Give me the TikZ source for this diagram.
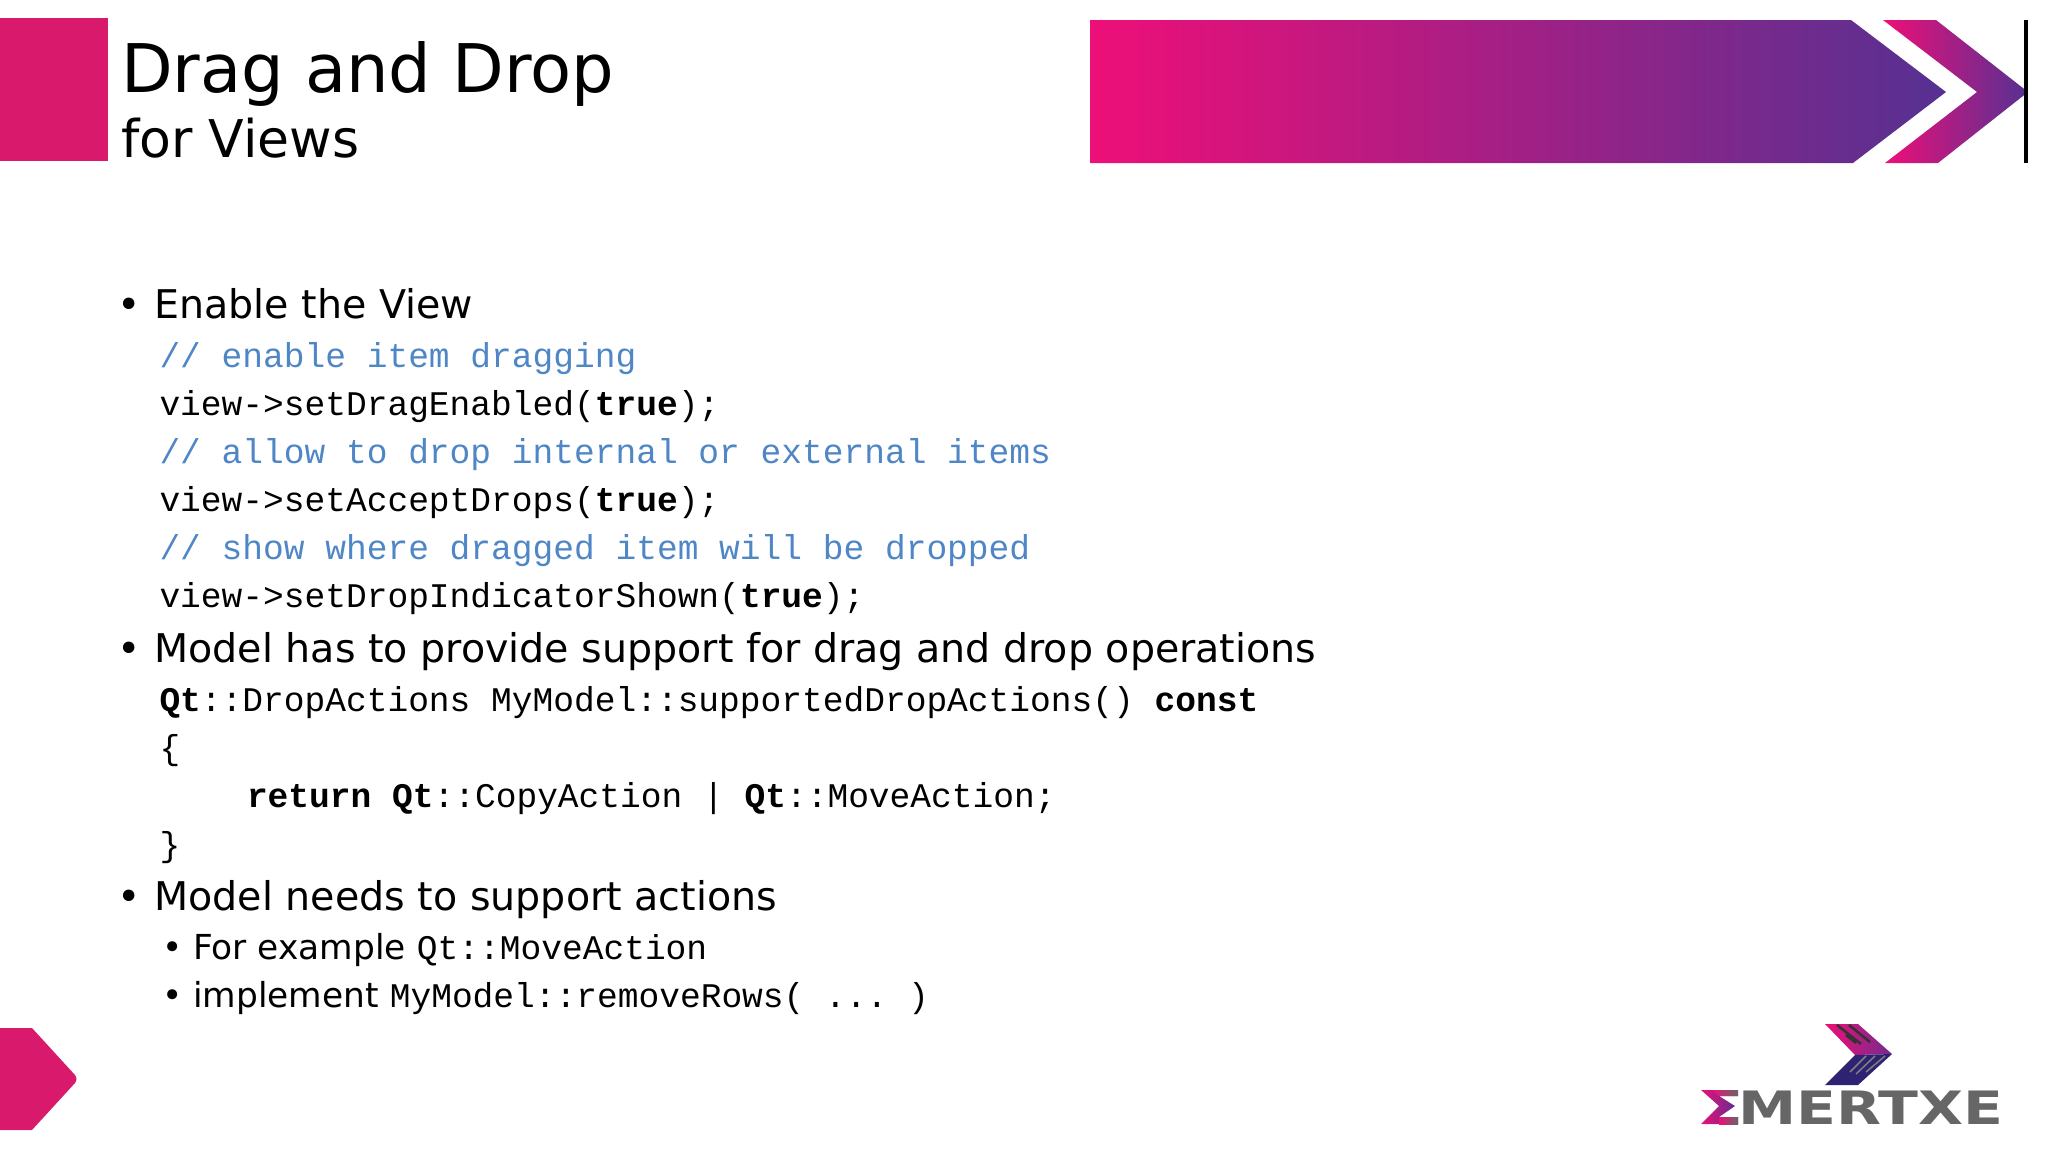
\documentclass[tikz,border=0pt]{standalone}
\usepackage{fontspec}
\setmainfont{DejaVu Sans}
\setmonofont{Liberation Mono}
\definecolor{pinkbar}{HTML}{D9196B}
\definecolor{gradL}{HTML}{EE0F78}
\definecolor{gradR}{HTML}{553192}
\definecolor{cmt}{HTML}{4F86C6}
\definecolor{logoblue}{HTML}{2E2272}
\definecolor{logogray}{HTML}{666666}
\newcommand{\pxfont}[1]{\fontsize{#1pt}{#1pt}\selectfont}
\newcommand{\cd}[1]{{\ttfamily\pxfont{34.55}#1}}
\tikzset{
  x=1pt,y=-1pt,
  txt/.style={anchor=base west,inner sep=0pt,outer sep=0pt,text=black},
  titleA/.style={txt,font=\pxfont{67.1}},
  titleB/.style={txt,font=\pxfont{52}},
  bulA/.style={txt,font=\pxfont{39.55}},
  bulB/.style={txt,font=\pxfont{34.4}},
  code/.style={txt,font=\ttfamily\pxfont{34.55}},
  comment/.style={code,text=cmt},
  bar/.style={fill=pinkbar,draw=none},
}
\begin{document}
\begin{tikzpicture}
\useasboundingbox (0,0) rectangle (2048,1152);
% decoration
\fill[bar] (0,18) rectangle (108,161);
\fill[bar] (0,1028) -- (32,1028) -- (75,1075) .. controls (77,1078) and (77,1080) .. (75,1083) -- (32,1130) -- (0,1130) -- cycle;
\shade[left color=gradL,right color=gradR,shading=axis] (1090,20) -- (1851,20) -- (1946,92) -- (1853,163) -- (1090,163) -- cycle;
\shade[left color=gradL,right color=gradR] (1883,20) -- (1936,20) -- (2028,92) -- (1938,163) -- (1885,163) -- (1977,92) -- cycle;
\fill[black] (2024,20) rectangle (2028,163);
% title
\node[titleA] (t1) at (121,92) {Drag and Drop};
\node[titleB] (t2) at (121,157) {for Views};
% body
\node[bulA] (b1m) at (117.3,318) {•};
\node[bulA] (b1) at (154.5,318) {Enable the View};
\node[comment] (c1) at (159.5,367) {// enable item dragging};
\node[code] (c2) at (159.5,415) {view->setDragEnabled(\textbf{true});};
\node[comment] (c3) at (159.5,463) {// allow to drop internal or external items};
\node[code] (c4) at (159.5,511) {view->setAcceptDrops(\textbf{true});};
\node[comment] (c5) at (159.5,559) {// show where dragged item will be dropped};
\node[code] (c6) at (159.5,607) {view->setDropIndicatorShown(\textbf{true});};
\node[bulA] (b2m) at (117.3,662) {•};
\node[bulA] (b2) at (154.5,662) {Model has to provide support for drag and drop operations};
\node[code] (d1) at (159.5,711) {\textbf{Qt}::DropActions MyModel::supportedDropActions() \textbf{const}};
\node[code] (d2) at (159.5,759) {\{};
\node[code] (d3) at (247,807) {\textbf{return} \textbf{Qt}::CopyAction | \textbf{Qt}::MoveAction;};
\node[code] (d4) at (159.5,856) {\}};
\node[bulA] (b3m) at (117.3,910) {•};
\node[bulA] (b3) at (154.5,910) {Model needs to support actions};
\node[bulB] (s1m) at (162,959.5) {•};
\node[bulB] (s1) at (193.3,959.5) {For example \cd{Qt::MoveAction}};
\node[bulB] (s2m) at (162,1007.5) {•};
\node[bulB] (s2) at (193.3,1007.5) {implement \cd{MyModel::removeRows( ... )}};
% logo
\shade[left color=gradL,right color=gradR!80!gradL] (1825,1024) -- (1858,1024) -- (1892,1054) -- (1855,1055) -- cycle;
\fill[logoblue] (1855,1055) -- (1892,1054) -- (1858,1085) -- (1825,1085) -- cycle;
\draw[black!80,line width=2.5pt] (1837,1025) -- (1861,1044) (1849,1025) -- (1870,1042) (1846,1035) -- (1856,1043);
\draw[gray,line width=1.5pt] (1875,1056) -- (1856,1074) (1885,1056) -- (1866,1072) (1866,1056) -- (1850,1072);
\shade[left color=gradL,right color=gradR] (1701,1090) -- (1738,1090) -- (1738,1096) -- (1719,1096) -- (1735,1106) -- (1719,1117) -- (1738,1117) -- (1738,1124) -- (1701,1124) -- (1719,1106) -- cycle;
\shade[left color=gradL,right color=logogray] (1719,1117) rectangle (1738,1124);
\shade[left color=gradL,right color=logogray] (1712,1090) -- (1738,1090) -- (1738,1096) -- (1719,1096) -- cycle;
\node[txt,font=\bfseries\pxfont{46},text=logogray,xscale=1.27] (logo) at (1738,1124) {MERTXE};
\end{tikzpicture}
\end{document}
